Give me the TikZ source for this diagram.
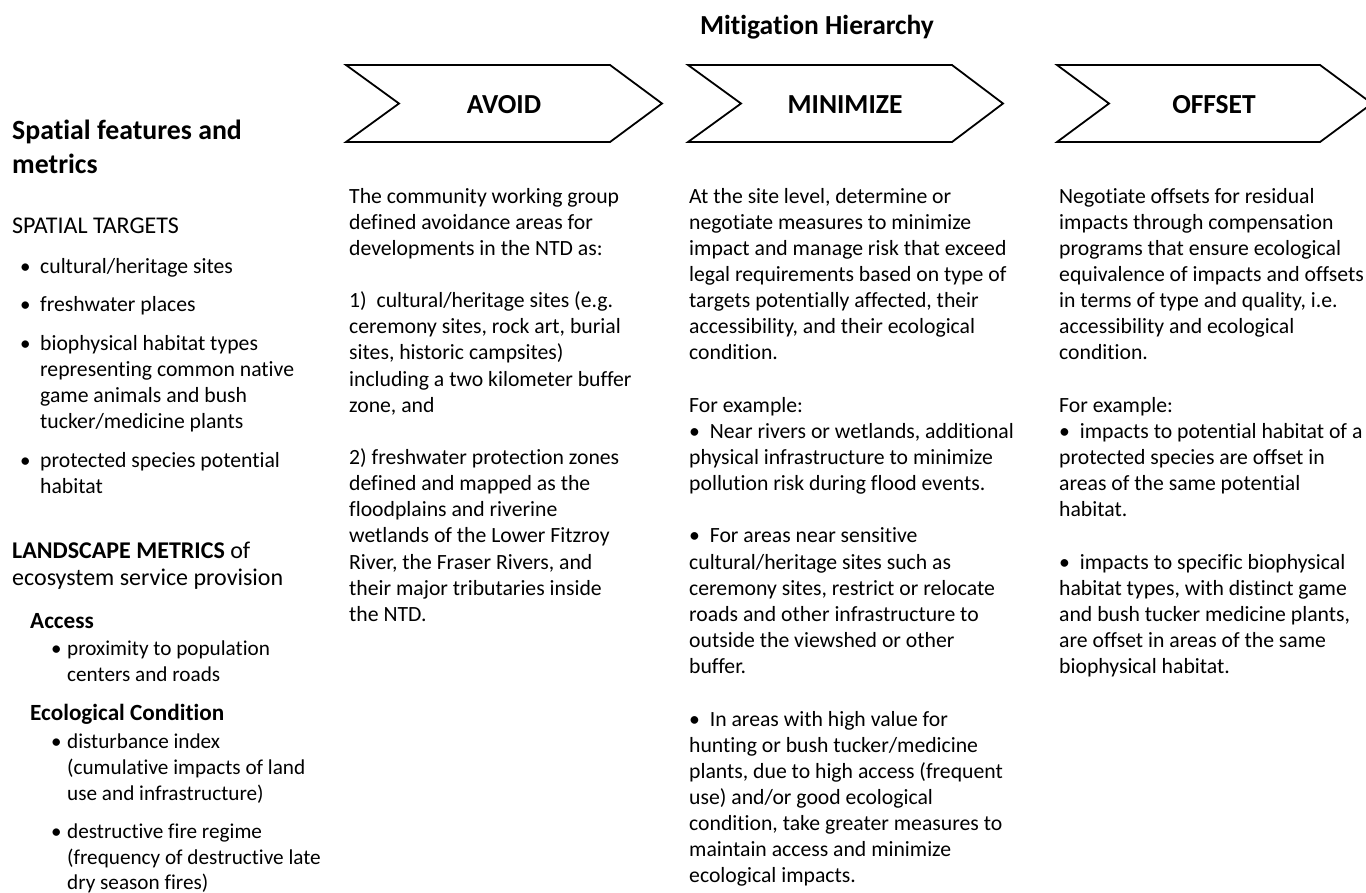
\documentclass[tikz,border=0pt]{standalone}
\usepackage{fontspec}
\setmainfont{Carlito}[Ligatures={NoCommon}]
\tikzset{
  x=1pt, y=-1pt,
  chev/.style={draw=black, line width=1.8pt, fill=white, line join=miter},
  chevlabel/.style={font=\fontsize{27.5}{32}\selectfont\bfseries, anchor=base, inner sep=0pt},
  maintitle/.style={font=\fontsize{27.5}{32}\selectfont\bfseries, anchor=base, inner sep=0pt},
  heading/.style={font=\fontsize{27.8}{34}\selectfont\bfseries, anchor=base west, inner sep=0pt},
  body/.style={font=\fontsize{21.7}{26}\selectfont, anchor=base west, inner sep=0pt},
  small/.style={font=\fontsize{21.2}{26}\selectfont, anchor=base west, inner sep=0pt},
  large/.style={font=\fontsize{24}{28}\selectfont, anchor=base west, inner sep=0pt},
  subhead/.style={font=\fontsize{23.2}{28}\selectfont\bfseries, anchor=base west, inner sep=0pt},
  dot/.style={font=\fontsize{21}{26}\selectfont, anchor=base west, inner sep=0pt}
}
\newcommand\colline[4]{\node[body] (#1) at (#2,{203+26.15*(#3-1)}) {#4};}
\begin{document}
\begin{tikzpicture}
\useasboundingbox (0,0) rectangle (1366,892);

% title
\node[maintitle] (title) at (817,34) {Mitigation Hierarchy};

% chevrons
\draw[chev] (346,65) -- (610,65) -- (662,103.5) -- (610,142) -- (346,142) -- (399,103.5) -- cycle;
\node[chevlabel] (avoid) at (504,113) {AVOID};
\draw[chev] (688,65) -- (952,65) -- (1003,103.5) -- (952,142) -- (688,142) -- (741,103.5) -- cycle;
\node[chevlabel] (minimize) at (845,113) {MINIMIZE};
\draw[chev] (1057,65) -- (1320,65) -- (1372,103.5) -- (1320,142) -- (1057,142) -- (1109,103.5) -- cycle;
\node[chevlabel] (offset) at (1214,113) {OFFSET};

% left column
\node[heading] (h1) at (12,139) {Spatial features and};
\node[heading] (h2) at (12,173) {metrics};
\node[large] (st) at (12,233) {SPATIAL TARGETS};
\node[dot] (b1) at (20,273) {•};
\node[body] (s1) at (40,273) {cultural/heritage sites};
\node[dot] (b2) at (20,311) {•};
\node[body] (s2) at (40,311) {freshwater places};
\node[dot] (b3) at (20,350) {•};
\node[body] (s3a) at (40,350) {biophysical habitat types};
\node[body] (s3b) at (40,376) {representing common native};
\node[body] (s3c) at (40,402) {game animals and bush};
\node[body] (s3d) at (40,428) {tucker/medicine plants};
\node[dot] (b4) at (20,467) {•};
\node[body] (s4a) at (40,467) {protected species potential};
\node[body] (s4b) at (40,493) {habitat};

\node[large] (lm) at (12,558) {\textbf{LANDSCAPE METRICS} of};
\node[large] (lm2) at (12,585) {ecosystem service provision};
\node[subhead] (acc) at (30,628) {Access};
\node[dot] (b5) at (51,655) {•};
\node[small] (a1a) at (67,655) {proximity to population};
\node[small] (a1b) at (67,681) {centers and roads};
\node[subhead] (eco) at (30,720) {Ecological Condition};
\node[dot] (b6) at (51,748) {•};
\node[small] (e1a) at (67,748) {disturbance index};
\node[small] (e1b) at (67,774) {(cumulative impacts of land};
\node[small] (e1c) at (67,800) {use and infrastructure)};
\node[dot] (b7) at (51,838) {•};
\node[small] (e2a) at (67,838) {destructive fire regime};
\node[small] (e2b) at (67,864) {(frequency of destructive late};
\node[small] (e2c) at (67,889) {dry season fires)};

% AVOID column
\colline{av1}{349}{1}{The community working group}
\colline{av2}{349}{2}{defined avoidance areas for}
\colline{av3}{349}{3}{developments in the NTD as:}
\colline{av5}{349}{5}{1)\ \ cultural/heritage sites (e.g.}
\colline{av6}{349}{6}{ceremony sites, rock art, burial}
\colline{av7}{349}{7}{sites, historic campsites)}
\colline{av8}{349}{8}{including a two kilometer buffer}
\colline{av9}{349}{9}{zone, and}
\colline{av11}{349}{11}{2) freshwater protection zones}
\colline{av12}{349}{12}{defined and mapped as the}
\colline{av13}{349}{13}{floodplains and riverine}
\colline{av14}{349}{14}{wetlands of the Lower Fitzroy}
\colline{av15}{349}{15}{River, the Fraser Rivers, and}
\colline{av16}{349}{16}{their major tributaries inside}
\colline{av17}{349}{17}{the NTD.}

% MINIMIZE column
\colline{mi1}{689}{1}{At the site level, determine or}
\colline{mi2}{689}{2}{negotiate measures to minimize}
\colline{mi3}{689}{3}{impact and manage risk that exceed}
\colline{mi4}{689}{4}{legal requirements based on type of}
\colline{mi5}{689}{5}{targets potentially affected, their}
\colline{mi6}{689}{6}{accessibility, and their ecological}
\colline{mi7}{689}{7}{condition.}
\colline{mi9}{689}{9}{For example:}
\colline{mi10}{689}{10}{•\ \ Near rivers or wetlands, additional}
\colline{mi11}{689}{11}{physical infrastructure to minimize}
\colline{mi12}{689}{12}{pollution risk during flood events.}
\colline{mi14}{689}{14}{•\ \ For areas near sensitive}
\colline{mi15}{689}{15}{cultural/heritage sites such as}
\colline{mi16}{689}{16}{ceremony sites, restrict or relocate}
\colline{mi17}{689}{17}{roads and other infrastructure to}
\colline{mi18}{689}{18}{outside the viewshed or other}
\colline{mi19}{689}{19}{buffer.}
\colline{mi21}{689}{21}{•\ \ In areas with high value for}
\colline{mi22}{689}{22}{hunting or bush tucker/medicine}
\colline{mi23}{689}{23}{plants, due to high access (frequent}
\colline{mi24}{689}{24}{use) and/or good ecological}
\colline{mi25}{689}{25}{condition, take greater measures to}
\colline{mi26}{689}{26}{maintain access and minimize}
\colline{mi27}{689}{27}{ecological impacts.}

% OFFSET column
\colline{of1}{1059}{1}{Negotiate offsets for residual}
\colline{of2}{1059}{2}{impacts through compensation}
\colline{of3}{1059}{3}{programs that ensure ecological}
\colline{of4}{1059}{4}{equivalence of impacts and offsets}
\colline{of5}{1059}{5}{in terms of type and quality, i.e.}
\colline{of6}{1059}{6}{accessibility and ecological}
\colline{of7}{1059}{7}{condition.}
\colline{of9}{1059}{9}{For example:}
\colline{of10}{1059}{10}{•\ \ impacts to potential habitat of a}
\colline{of11}{1059}{11}{protected species are offset in}
\colline{of12}{1059}{12}{areas of the same potential}
\colline{of13}{1059}{13}{habitat.}
\colline{of15}{1059}{15}{•\ \ impacts to specific biophysical}
\colline{of16}{1059}{16}{habitat types, with distinct game}
\colline{of17}{1059}{17}{and bush tucker medicine plants,}
\colline{of18}{1059}{18}{are offset in areas of the same}
\colline{of19}{1059}{19}{biophysical habitat.}
\end{tikzpicture}
\end{document}
